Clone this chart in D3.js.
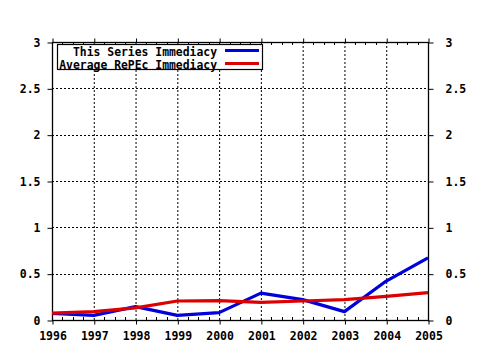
<!DOCTYPE html>
<html><head><meta charset="utf-8">
<script src="https://cdn.jsdelivr.net/npm/d3@7"></script>
<style>body{margin:0;background:#fff}svg{display:block}text{font-family:"DejaVu Sans Mono",monospace;font-weight:bold;fill:#000}</style>
</head><body><svg id="c" width="480" height="350"></svg>
<script>
const years = [1996,1997,1998,1999,2000,2001,2002,2003,2004,2005];
const seriesImmediacy = [0.07,0.05,0.145,0.05,0.08,0.29,0.22,0.09,0.42,0.67];
const repecImmediacy = [0.075,0.09,0.13,0.205,0.21,0.19,0.205,0.22,0.255,0.295];
const yTicks = [0,0.5,1,1.5,2,2.5,3];
const yTickLabels = ["0","0.5","1","1.5","2","2.5","3"];
const legendLabels = ["This Series Immediacy","Average RePEc Immediacy"];
const colors = ["#0000dd","#dd0000"];

const svg = d3.select("#c");
const L=52,R=428,T=42,B=320;
const x = d3.scaleLinear().domain([1996,2005]).range([L,R]);
const y = d3.scaleLinear().domain([0,3]).range([B,T]);

// grid
const g = svg.append("g");
g.selectAll(".vg").data(years.slice(1,-1)).enter().append("line")
 .attr("x1",d=>x(d)+0.5).attr("x2",d=>x(d)+0.5).attr("y1",T).attr("y2",B)
 .attr("stroke","#000").attr("stroke-dasharray","2,2");
g.selectAll(".hg").data(yTicks.slice(1,-1)).enter().append("line")
 .attr("y1",d=>Math.round(y(d))+0.5).attr("y2",d=>Math.round(y(d))+0.5).attr("x1",L).attr("x2",R)
 .attr("stroke","#000").attr("stroke-dasharray","2,2");

// axes
const xb = d3.axisBottom(x).tickValues(years).tickFormat(d3.format("d")).tickSize(4).tickPadding(7);
const xt = d3.axisTop(x).tickValues(years).tickFormat("").tickSize(4);
const yl = d3.axisLeft(y).tickValues(yTicks).tickFormat((d,i)=>yTickLabels[i]).tickSize(5).tickPadding(7);
const yr = d3.axisRight(y).tickValues(yTicks).tickFormat((d,i)=>yTickLabels[i]).tickSize(5).tickPadding(12);
const minor = d3.range(1996,2005.01,0.25).filter(v=>Math.abs(v-Math.round(v))>0.01);
function styleAxis(sel){sel.select(".domain").remove();sel.selectAll("line").attr("stroke","#000");sel.selectAll("text").attr("font-size","11.5px").style("font-family","'DejaVu Sans Mono',monospace").style("font-weight","bold");}
svg.append("g").attr("transform",`translate(0.5,${B+0.5})`).call(xb).call(styleAxis);
svg.append("g").attr("transform",`translate(0.5,${T+0.5})`).call(xt).call(styleAxis);
svg.append("g").attr("transform",`translate(${L+0.5},0.5)`).call(yl).call(styleAxis);
svg.append("g").attr("transform",`translate(${R+0.5},0.5)`).call(yr).call(styleAxis);
svg.append("g").selectAll("line").data(minor).enter().append("line")
 .attr("x1",d=>Math.round(x(d))+0.5).attr("x2",d=>Math.round(x(d))+0.5).attr("y1",B).attr("y2",B-3).attr("stroke","#000");
svg.append("g").selectAll("line").data(minor).enter().append("line")
 .attr("x1",d=>Math.round(x(d))+0.5).attr("x2",d=>Math.round(x(d))+0.5).attr("y1",T).attr("y2",T+3).attr("stroke","#000");
svg.append("rect").attr("x",L+0.5).attr("y",T+0.5).attr("width",R-L).attr("height",B-T).attr("fill","none").attr("stroke","#000").attr("stroke-width",1.3);

// lines
const line = d3.line().x((d,i)=>x(years[i])).y(d=>y(d));
[seriesImmediacy,repecImmediacy].forEach((s,i)=>{
 svg.append("path").datum(s).attr("d",line).attr("fill","none").attr("stroke",colors[i]).attr("stroke-width",3.2).attr("stroke-linejoin","round");
});

// legend
const lg = svg.append("g");
lg.append("rect").attr("x",57.5).attr("y",44.5).attr("width",205).attr("height",25).attr("fill","#fff").attr("stroke","#000").attr("stroke-width",1.2);
legendLabels.forEach((t,i)=>{
 lg.append("text").attr("x",217).attr("y",54.5+i*13).attr("text-anchor","end").attr("font-size","11.4px").attr("dy","0.1em").text(t);
 lg.append("line").attr("x1",225).attr("x2",259).attr("y1",50.5+i*13).attr("y2",50.5+i*13).attr("stroke",colors[i]).attr("stroke-width",3);
});
</script></body></html>
